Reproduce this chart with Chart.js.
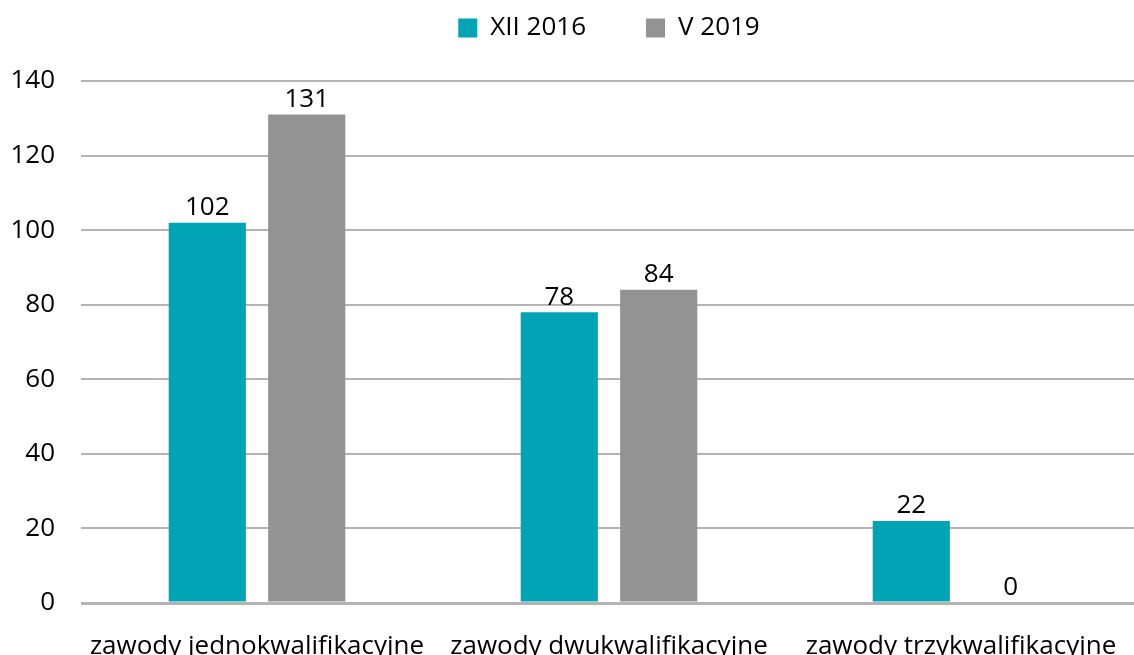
<!DOCTYPE html>
<html>
<head>
<meta charset="utf-8">
<script src="https://cdn.jsdelivr.net/npm/chart.js@4"></script>
<style>
  html, body { margin: 0; padding: 0; background: #fff; overflow: hidden; }
  #wrap { width: 1134px; height: 655px; overflow: hidden; }
</style>
</head>
<body>
<div id="wrap"><canvas id="chart" width="1137" height="670"></canvas></div>
<script>
const categories = ['zawody jednokwalifikacyjne', 'zawody dwukwalifikacyjne', 'zawody trzykwalifikacyjne'];
const seriesNames = ['XII 2016', 'V 2019'];
const values2016 = [102, 78, 22];
const values2019 = [131, 84, 0];
const yTicks = [0, 20, 40, 60, 80, 100, 120, 140];

const FONT = 'Open Sans';
const FSIZE = 26;
const LEGEND_HEIGHT = 126;

// draws the number above each bar
const valueLabels = {
  id: 'valueLabels',
  afterDatasetsDraw(chart) {
    const ctx = chart.ctx;
    ctx.save();
    ctx.font = FSIZE + 'px "' + FONT + '"';
    ctx.fillStyle = '#000';
    ctx.textAlign = 'center';
    ctx.textBaseline = 'bottom';
    chart.data.datasets.forEach((ds, i) => {
      chart.getDatasetMeta(i).data.forEach((bar, j) => {
        ctx.fillText(ds.data[j], bar.x, bar.y - 2);
      });
    });
    ctx.restore();
  }
};

// leave more room between the legend and the plot
const legendSpace = {
  id: 'legendSpace',
  afterInit(chart) {
    const legend = chart.legend;
    if (!legend) return;
    const fit = legend.fit;
    legend.fit = function () {
      fit.call(this);
      this.height = LEGEND_HEIGHT;
    };
  }
};

const ctx = document.getElementById('chart').getContext('2d');
new Chart(ctx, {
  type: 'bar',
  data: {
    labels: categories,
    datasets: [
      { label: seriesNames[0], data: values2016, backgroundColor: '#00a4b5' },
      { label: seriesNames[1], data: values2019, backgroundColor: '#939393' }
    ]
  },
  options: {
    responsive: false,
    animation: false,
    layout: { padding: { top: -45, left: 0, right: 0, bottom: 0 } },
    datasets: { bar: { categoryPercentage: 0.565, barPercentage: 0.776 } },
    plugins: {
      tooltip: { enabled: false },
      legend: {
        display: true,
        position: 'top',
        fullSize: false,
        labels: {
          font: { family: FONT, size: FSIZE },
          color: '#000',
          boxWidth: 19,
          boxHeight: 19,
          padding: 60
        }
      }
    },
    scales: {
      x: {
        grid: { display: false },
        border: { display: false },
        ticks: { font: { family: FONT, size: FSIZE }, color: '#000', padding: 20, maxRotation: 0 },
        afterFit: s => { s.paddingLeft = 0; s.paddingRight = 0; s.height = 67; }
      },
      y: {
        min: 0,
        max: 140,
        afterBuildTicks: axis => { axis.ticks = yTicks.map(v => ({ value: v })); },
        border: { display: false },
        grid: {
          color: '#b4b4b4',
          lineWidth: c => (c.tick && c.tick.value === 0 ? 3 : 2),
          drawTicks: false
        },
        ticks: { font: { family: FONT, size: FSIZE }, color: '#000', padding: 26 },
        afterFit: s => { s.paddingTop = 0; s.paddingBottom = 0; s.width = 81; }
      }
    }
  },
  plugins: [valueLabels, legendSpace]
});
</script>
</body>
</html>
